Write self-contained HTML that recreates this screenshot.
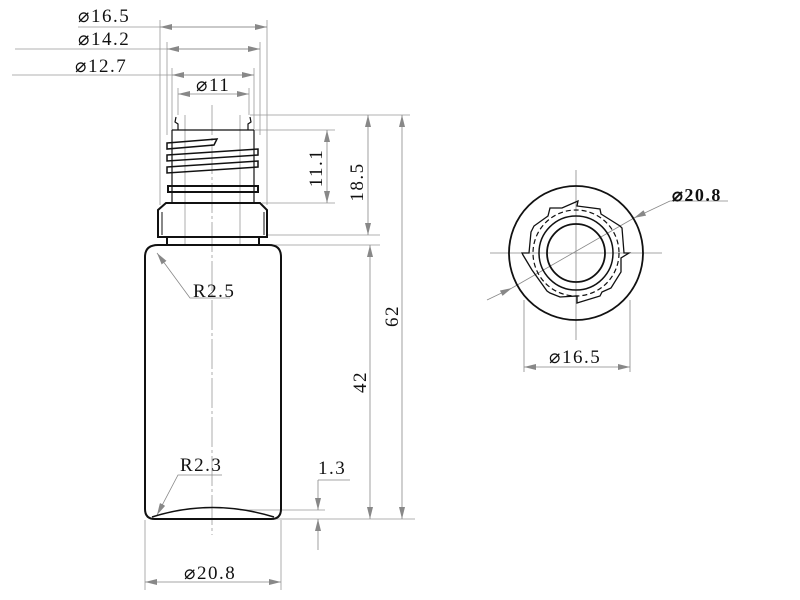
<!DOCTYPE html>
<html><head><style>body{margin:0;background:#fff}svg{display:block}text{font-family:"Liberation Serif",serif;fill:#111;letter-spacing:1.5px}</style></head><body>
<svg width="800" height="600" viewBox="0 0 800 600" xmlns="http://www.w3.org/2000/svg">
<defs>
<marker id="a" viewBox="0 0 12 6" refX="12" refY="3" markerWidth="12" markerHeight="6" orient="auto-start-reverse" markerUnits="userSpaceOnUse"><path d="M0,0L12,3L0,6z" fill="#888"/></marker>
</defs>
<g stroke="#999" stroke-width="0.8" fill="none">
<line x1="160" y1="20" x2="160" y2="205"/><line x1="267" y1="20" x2="267" y2="205"/>
<line x1="167" y1="42" x2="167" y2="135"/><line x1="260" y1="42" x2="260" y2="135"/>
<line x1="172" y1="68" x2="172" y2="135"/><line x1="254" y1="68" x2="254" y2="135"/>
<line x1="178" y1="88" x2="178" y2="115"/><line x1="249" y1="88" x2="249" y2="115"/>
<line x1="78" y1="27" x2="267" y2="27"/>
<line x1="15" y1="49" x2="260" y2="49"/>
<line x1="12" y1="75" x2="254" y2="75"/>
<line x1="185" y1="115" x2="185" y2="245"/><line x1="240" y1="115" x2="240" y2="245"/>
<line x1="212" y1="105" x2="212" y2="535" stroke-dasharray="30,3,3,3"/>
<line x1="250" y1="115" x2="410" y2="115"/>
<line x1="255" y1="130" x2="335" y2="130"/>
<line x1="262" y1="203" x2="335" y2="203"/>
<line x1="268" y1="235" x2="380" y2="235"/>
<line x1="272" y1="245" x2="380" y2="245"/>
<line x1="240" y1="510" x2="325" y2="510"/>
<line x1="275" y1="519" x2="415" y2="519"/>
<line x1="145" y1="520" x2="145" y2="590"/><line x1="281" y1="520" x2="281" y2="590"/>
</g>
<g stroke="#888" stroke-width="0.8" fill="none" marker-start="url(#a)" marker-end="url(#a)">
<line x1="160" y1="27" x2="267" y2="27"/>
<line x1="167" y1="49" x2="260" y2="49"/>
<line x1="172" y1="75" x2="254" y2="75"/>
<line x1="178" y1="94" x2="249" y2="94"/>
<line x1="327" y1="130" x2="327" y2="203"/>
<line x1="368" y1="115" x2="368" y2="235"/>
<line x1="402" y1="115" x2="402" y2="519"/>
<line x1="370" y1="245" x2="370" y2="519"/>
<line x1="145" y1="582" x2="281" y2="582"/>
<line x1="524" y1="367" x2="630" y2="367"/>
</g>
<g stroke="#888" stroke-width="0.8" fill="none">
<line x1="318" y1="480" x2="318" y2="510" marker-end="url(#a)"/>
<line x1="318" y1="550" x2="318" y2="519" marker-end="url(#a)"/>
<polyline points="318,480 350,480"/>
<polyline points="230,298 190,298 157,253" marker-end="url(#a)"/>
<polyline points="222,475 178,475 157,515" marker-end="url(#a)"/>
<line x1="487" y1="300" x2="512" y2="288" marker-end="url(#a)"/>
<line x1="670" y1="201" x2="634" y2="218" marker-end="url(#a)"/>
<line x1="670" y1="201" x2="728" y2="201"/>
<line x1="512" y1="288" x2="634" y2="218"/>
<line x1="524" y1="300" x2="524" y2="372"/><line x1="630" y1="300" x2="630" y2="372"/>
<line x1="490" y1="253" x2="662" y2="253"/><line x1="576" y1="170" x2="576" y2="340"/>
</g>
<g stroke="#111" stroke-width="2" fill="none">
<path d="M158,245 L269,245 Q281,245 281,257 L281,509 Q281,519 271,519 L155,519 Q145,519 145,509 L145,257 Q145,245 158,245Z"/>
<path d="M152,517 Q212,498 274,517" stroke-width="1.5"/>
<path d="M167,237 L259,237 M167,237 L167,245 M259,237 L259,245"/>
<path d="M158,237 L158,210 L166,203 L260,203 L267,210 L267,237 Z"/>
<path d="M162,212 L162,235 M264,212 L264,235" stroke-width="1"/>
<path d="M172,203 L172,130 M254,203 L254,130 M172,130 L254,130" stroke-width="1.2"/>
<path d="M178,130 L178,124 L175,122 L176,117 M248,130 L248,124 L251,122 L250,117" stroke-width="1.2"/>
<path d="M168,186 L258,186 L258,192 L168,192Z"/>
<path d="M167,143 L217,139 L214,145 L167,149Z" stroke-width="1.5"/>
<path d="M167,155 L258,149 L258,155 L167,161Z" stroke-width="1.5"/>
<path d="M167,167 L258,161 L258,167 L167,173Z" stroke-width="1.5"/>
</g>
<g stroke="#111" stroke-width="1.8" fill="none">
<circle cx="576" cy="253" r="67"/>
<circle cx="576" cy="253" r="29"/>
<circle cx="576" cy="253" r="37" stroke-width="1.5"/>
<circle cx="576" cy="253" r="43" stroke-width="1.2" stroke-dasharray="5,3"/>
<path d="M522,253 L529,253 L531,232 L534,226 L548,216 L550,208 L562,208 L578,201 L577,206 L600,209 L601,214 L620,226 L622,228 L624,253 L629,253 L621,258 L621,272 L611,288 L602,292 L600,296 L577,303 L577,296 L560,297 L550,293 L547,291 L532,270 L523,255Z" stroke-width="1.3"/>
</g>
<g font-size="19">
<text x="78" y="22">⌀16.5</text>
<text x="78" y="45">⌀14.2</text>
<text x="75" y="72">⌀12.7</text>
<text x="196" y="91">⌀11</text>
<text x="193" y="297">R2.5</text>
<text x="180" y="471">R2.3</text>
<text x="318" y="474">1.3</text>
<text x="184" y="579">⌀20.8</text>
<text x="549" y="363">⌀16.5</text>
<text x="672" y="201" font-weight="bold" font-family="Liberation Sans" font-size="18">⌀20.8</text>
<text transform="translate(322,168) rotate(-90)" text-anchor="middle">11.1</text>
<text transform="translate(363,182) rotate(-90)" text-anchor="middle">18.5</text>
<text transform="translate(398,316) rotate(-90)" text-anchor="middle" font-family="Liberation Sans">62</text>
<text transform="translate(366,382) rotate(-90)" text-anchor="middle" font-family="Liberation Sans">42</text>
</g>
</svg>
</body></html>
